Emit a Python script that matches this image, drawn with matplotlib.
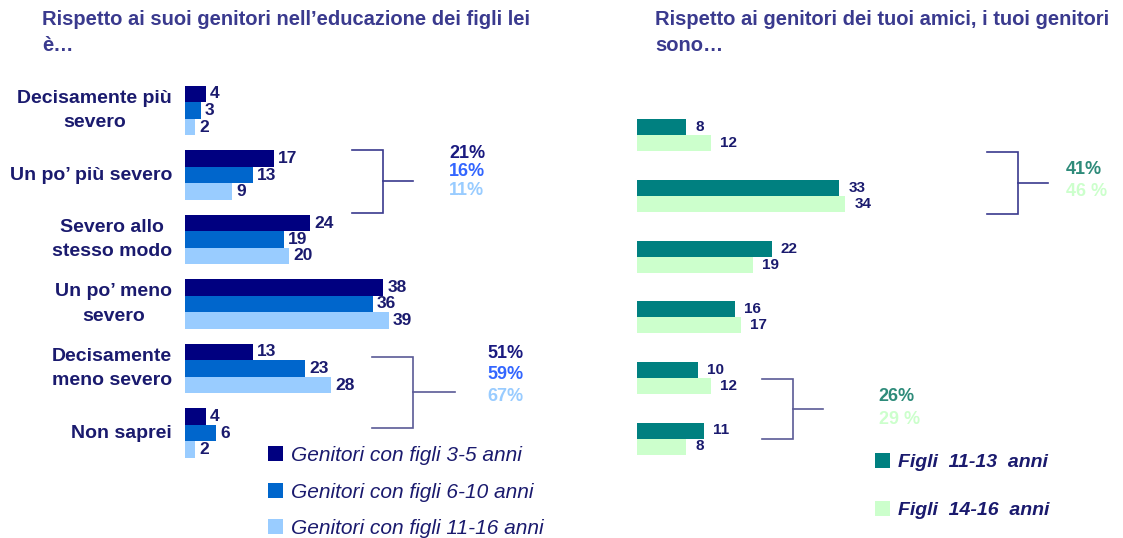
import matplotlib
matplotlib.use('Agg')
import matplotlib.pyplot as plt
import numpy as np

W, H, DPI = 1123, 538, 100

# ---------------- data ----------------
left_title = "Rispetto ai suoi genitori nell\u2019educazione dei figli lei\nè…"
left_categories = ["Decisamente più\nsevero", "Un po\u2019 più severo", "Severo allo\nstesso modo",
                   "Un po\u2019 meno\nsevero", "Decisamente\nmeno severo", "Non saprei"]
left_series = ["Genitori con figli 3-5 anni", "Genitori con figli 6-10 anni",
               "Genitori con figli 11-16 anni"]
left_3_5 = [4, 17, 24, 38, 13, 4]
left_6_10 = [3, 13, 19, 36, 23, 6]
left_11_16 = [2, 9, 20, 39, 28, 2]
left_more_severe = ["21%", "16%", "11%"]
left_less_severe = ["51%", "59%", "67%"]

right_title = "Rispetto ai genitori dei tuoi amici, i tuoi genitori\nsono…"
right_series = ["Figli  11-13  anni", "Figli  14-16  anni"]
right_11_13 = [8, 33, 22, 16, 10, 11]
right_14_16 = [12, 34, 19, 17, 12, 8]
right_more_severe = ["41%", "46 %"]
right_less_severe = ["26%", "29 %"]

# ---------------- style ----------------
left_colors = ['#000080', '#0066CC', '#99CCFF']
right_colors = ['#008080', '#CCFFCC']
pct_left_colors = ['#1A1A80', '#3366FF', '#99CCFF']
pct_right_colors = ['#2E8B7A', '#CCFFCC']
navy = '#1A1A6E'
title_col = '#3A3A8E'
brk_col = '#3A3A8E'
FONT = 'Liberation Sans'

fig = plt.figure(figsize=(W / DPI, H / DPI), dpi=DPI)


def px_axes(x0, y0, x1, y1):
    return fig.add_axes([x0 / W, 1 - y1 / H, (x1 - x0) / W, (y1 - y0) / H])


def bracket(ax, y_top, y_bot, x_in, x_v, x_out, color):
    ym = (y_top + y_bot) / 2
    ax.plot([x_in, x_v, x_v, x_in], [y_top, y_top, y_bot, y_bot], color=color, lw=1.2,
            clip_on=False, solid_joinstyle='miter')
    ax.plot([x_v, x_out], [ym, ym], color=color, lw=1.2, clip_on=False)


# ---------------- left panel ----------------
L_PX = 5.22          # pixels per unit
L_ROW = 64.5         # pixels per category
L_C0 = 110.5
axL = px_axes(185, 60, 600, 538)
axL.set_xlim(0, (600 - 185) / L_PX)
axL.set_ylim((538 - L_C0) / L_ROW, (60 - L_C0) / L_ROW)
axL.axis('off')

yl = np.arange(len(left_categories))
hL = 16.5 / L_ROW
left_vals = [left_3_5, left_6_10, left_11_16]
handlesL = []
for k, (vals, col) in enumerate(zip(left_vals, left_colors)):
    b = axL.barh(yl + (k - 1) * hL, vals, height=hL, color=col, label=left_series[k])
    handlesL.append(b)
    for yy, v in zip(yl + (k - 1) * hL, vals):
        axL.text(v + 4 / L_PX, yy, str(v), ha='left', va='center', fontsize=12.5,
                 fontweight='bold', color=navy, family=FONT)

for yy, lab in zip(yl, left_categories):
    axL.text(-13 / L_PX, yy, lab, ha='right', va='center', multialignment='center',
             fontsize=14, fontweight='bold', color=navy, family=FONT, linespacing=1.55,
             clip_on=False)

# brackets left
bracket(axL, 0.61, 1.59, 32.0, 37.9, 43.7, brk_col)
for i, (t, c) in enumerate(zip(left_more_severe, pct_left_colors)):
    axL.text(50.6, 0.66 + i * 0.29, t, ha='left', va='center', fontsize=13,
             fontweight='bold', color=c, family=FONT)
bracket(axL, 3.82, 4.92, 35.8, 43.7, 51.7, '#5A5A96')
for i, (t, c) in enumerate(zip(left_less_severe, pct_left_colors)):
    axL.text(58.0, 3.77 + i * 0.33, t, ha='left', va='center', fontsize=13,
             fontweight='bold', color=c, family=FONT)

fig.text(42 / W, 1 - 10 / H, left_title, ha='left', va='top', fontsize=14.5,
         fontweight='bold', color=title_col, family=FONT, linespacing=1.45)

fig.legend(handles=handlesL, labels=left_series, loc='upper left',
           bbox_to_anchor=(268 / W, 1 - 446 / H), frameon=False,
           prop={'family': FONT, 'style': 'italic', 'size': 15},
           labelcolor=navy, handlelength=0.72, handleheight=0.72, handletextpad=0.4,
           labelspacing=0.84, borderpad=0, borderaxespad=0)

# ---------------- right panel ----------------
R_PX = 6.13
R_ROW = 60.6
R_C0 = 135.5
axR = px_axes(637, 60, 1123, 538)
axR.set_xlim(0, (1123 - 637) / R_PX)
axR.set_ylim((538 - R_C0) / R_ROW, (60 - R_C0) / R_ROW)
axR.axis('off')

yr = np.arange(len(right_11_13))
hR = 16 / R_ROW
right_vals = [right_11_13, right_14_16]
handlesR = []
for k, (vals, col) in enumerate(zip(right_vals, right_colors)):
    pos = yr + (k - 0.5) * hR
    b = axR.barh(pos, vals, height=hR, color=col, label=right_series[k])
    handlesR.append(b)
    for yy, v in zip(pos, vals):
        axR.text(v + 9 / R_PX, yy, str(v), ha='left', va='center', fontsize=11,
                 fontweight='bold', color=navy, family=FONT)

bracket(axR, 0.28, 1.29, 57.1, 62.2, 67.0, brk_col)
for i, (t, c) in enumerate(zip(right_more_severe, pct_right_colors)):
    axR.text(70.0, 0.56 + i * 0.36, t, ha='left', va='center', fontsize=13,
             fontweight='bold', color=c, family=FONT)
bracket(axR, 4.01, 5.0, 20.4, 25.4, 30.3, '#5A5A96')
for i, (t, c) in enumerate(zip(right_less_severe, pct_right_colors)):
    axR.text(39.4, 4.31 + i * 0.37, t, ha='left', va='center', fontsize=13,
             fontweight='bold', color=c, family=FONT)

fig.text(655 / W, 1 - 10 / H, right_title, ha='left', va='top', fontsize=14.5,
         fontweight='bold', color=title_col, family=FONT, linespacing=1.45)

fig.legend(handles=handlesR, labels=right_series, loc='upper left',
           bbox_to_anchor=(875 / W, 1 - 453 / H), frameon=False,
           prop={'family': FONT, 'style': 'italic', 'weight': 'bold', 'size': 14},
           labelcolor=navy, handlelength=0.78, handleheight=0.78, handletextpad=0.4,
           labelspacing=1.55, borderpad=0, borderaxespad=0)

fig.savefig('out.png', dpi=DPI, facecolor='white')
